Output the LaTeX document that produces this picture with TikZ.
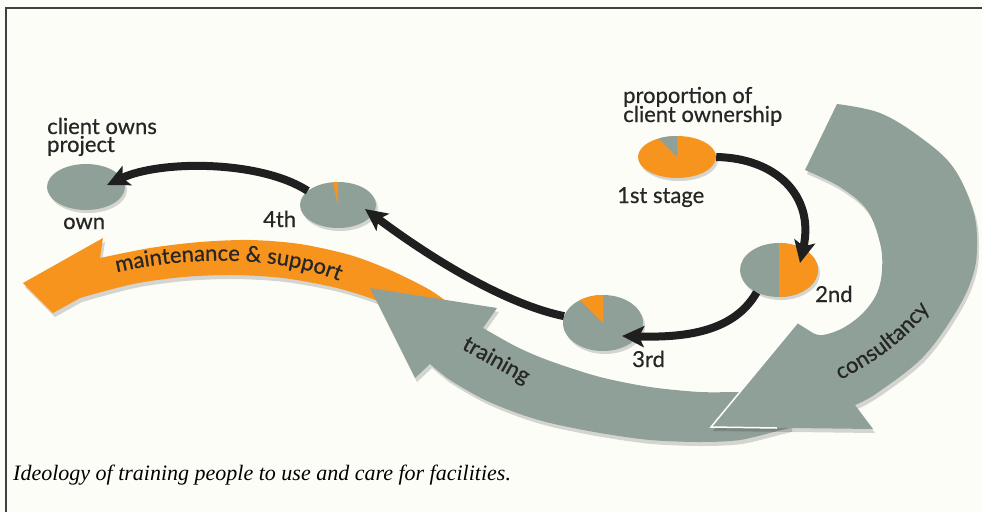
\documentclass[tikz,border=0pt]{standalone}
\usepackage{fontspec}
\setmainfont{Lato}
\newfontfamily\lblfam{Lato}[FakeBold=0.6]
\newfontfamily\capfont{Liberation Serif}
\usetikzlibrary{arrows.meta,shapes.geometric,decorations.text,calc}
\definecolor{bg}{RGB}{253,253,248}
\definecolor{sage}{RGB}{143,160,152}
\definecolor{orng}{RGB}{247,148,30}
\definecolor{ink}{RGB}{38,38,38}
\newcommand\lblfont{\lblfam\fontsize{22}{20}\selectfont}
\begin{document}
\begin{tikzpicture}[x=1pt,y=-1pt,
  lbl/.style={font=\lblfont, text=ink, inner sep=0, anchor=base west},
  conn/.style={line width=8pt, draw=black!88, -{Stealth[length=22pt,width=21pt,inset=5pt]}},
  piebox/.style={ellipse, inner sep=0, minimum width=#1},
  shade/.style={fill=black, opacity=0.16},
]
\useasboundingbox (0,0) rectangle (982,512);
\fill[bg] (0,0) rectangle (982,512);
\draw[line width=2pt, draw=black!75] (6,512) -- (6,8) -- (982,8);

% ---------- maintenance & support (orange) ----------
\begin{scope}[shift={(2,4)}]
\fill[shade] (23,283) -- (103,238) -- (100,258) -- plot[smooth] coordinates {(100,258) (150,248) (200,242) (250,240) (300,244) (350,255) (390,270) (430,290) (455,308)} -- (430,332) -- plot[smooth] coordinates {(430,332) (400,311) (370,298) (333,287) (283,278) (233,275) (183,277) (133,284) (80,298)} -- (53,313) -- cycle;
\end{scope}
\fill[orng] (23,283) -- (103,238) -- (100,258) -- plot[smooth] coordinates {(100,258) (150,248) (200,242) (250,240) (300,244) (350,255) (390,270) (430,290) (455,308)} -- (430,332) -- plot[smooth] coordinates {(430,332) (400,311) (370,298) (333,287) (283,278) (233,275) (183,277) (133,284) (80,298)} -- (53,313) -- cycle;
\path[decorate, decoration={text along path, text={|\lblfont|maintenance {\&} support}, text align=center, text color=ink}] (92,279) .. controls (170,255) and (290,250) .. (362,292);

% ---------- training (grey) ----------
\begin{scope}[shift={(2,4)}]
\fill[shade] (370,288) -- (497,308) -- (483,328) -- plot[smooth] coordinates {(483,328) (517,347) (550,361) (600,377) (650,387) (700,392) (745,392) (790,393)} -- (790,428) -- plot[smooth] coordinates {(777,431) (740,440) (700,442) (650,440) (600,433) (550,423) (517,413) (483,399) (450,380) (430,364)} -- (415,378) -- cycle;
\end{scope}
\fill[sage] (370,288) -- (497,308) -- (483,328) -- plot[smooth] coordinates {(483,328) (517,347) (550,361) (600,377) (650,387) (700,392) (745,392) (790,393)} -- (790,428) -- plot[smooth] coordinates {(777,431) (740,440) (700,442) (650,440) (600,433) (550,423) (517,413) (483,399) (450,380) (430,364)} -- (415,378) -- cycle;
\node[font=\lblfont, text=ink, rotate=-29, inner sep=0] (ttrain) at (496,361) {training};

% ---------- consultancy (grey) ----------
\begin{scope}[shift={(2,4)}]
\fill[shade] plot[smooth, tension=0.6] coordinates {(837,104) (880,113) (920,137) (953,167) (973,210) (977,245) (973,275) (957,310) (923,357) (877,393) (855,405)} -- (873,429) -- (711,427) -- (797,323) -- plot[smooth, tension=0.6] coordinates {(813,333) (823,335) (843,328) (863,313) (877,293) (882,270) (880,243) (867,210) (840,187) (805,170)} -- cycle;
\end{scope}
\fill[sage] plot[smooth, tension=0.6] coordinates {(837,104) (880,113) (920,137) (953,167) (973,210) (977,245) (973,275) (957,310) (923,357) (877,393) (855,405)} -- (873,429) -- (711,427) -- (797,323) -- plot[smooth, tension=0.6] coordinates {(813,333) (823,335) (843,328) (863,313) (877,293) (882,270) (880,243) (867,210) (840,187) (805,170)} -- cycle;
\draw[white, line width=1.5pt] (797,323) -- (711,427) -- (777,428);
\path[decorate, decoration={text along path, text={|\lblfont|consultancy}, text align=center, text color=ink}] (828,386) .. controls (870,366) and (910,340) .. (938,298);

% ---------- pies ----------
\node[piebox=78pt, minimum height=42pt] (p1) at (677,157) {};
\node[piebox=78pt, minimum height=54pt] (p2) at (779,270) {};
\node[piebox=80pt, minimum height=56pt] (p3) at (603,323) {};
\node[piebox=76pt, minimum height=46pt] (p4) at (338,205) {};
\node[piebox=78pt, minimum height=46pt] (p5) at (86,187) {};

\fill[shade] ($(p1.center)+(2,3)$) ellipse [x radius=39, y radius=21];
\fill[orng] (p1.center) ellipse [x radius=39, y radius=21];
\fill[sage] (p1.center) -- ++(-90:39 and 21) arc[start angle=-90, end angle=-118, x radius=39, y radius=21] -- cycle;

\fill[shade] ($(p2.center)+(2,3)$) ellipse [x radius=39, y radius=27];
\fill[sage] (p2.center) ellipse [x radius=39, y radius=27];
\fill[orng] (p2.center) -- ++(-90:39 and 27) arc[start angle=-90, end angle=90, x radius=39, y radius=27] -- cycle;

\fill[shade] ($(p3.center)+(2,3)$) ellipse [x radius=40, y radius=28];
\fill[sage] (p3.center) ellipse [x radius=40, y radius=28];
\fill[orng] (p3.center) -- ++(-90:40 and 28) arc[start angle=-90, end angle=-125, x radius=40, y radius=28] -- cycle;

\fill[shade] ($(p4.center)+(2,3)$) ellipse [x radius=38, y radius=23];
\fill[sage] (p4.center) ellipse [x radius=38, y radius=23];
\fill[orng] (p4.center) -- ++(-90:38 and 23) arc[start angle=-90, end angle=-98, x radius=38, y radius=23] -- cycle;

\fill[shade] ($(p5.center)+(2,3)$) ellipse [x radius=39, y radius=23];
\fill[sage] (p5.center) ellipse [x radius=39, y radius=23];

% ---------- connectors ----------
\draw[conn] (p1.east) .. controls (775,158) and (815,195) .. ($(p2.center)+(21,-7)$);
\draw[conn] (p2.225) .. controls (735,330) and (690,338) .. ($(p3.center)+(19,13)$);
\draw[conn] (p3.170) .. controls (510,305) and (440,265) .. ($(p4.center)+(27,4)$);
\draw[conn] (p4.155) .. controls (260,160) and (160,160) .. ($(p5.center)+(21,-2)$);

% ---------- labels ----------
\node[lbl] (lprop) at (623,103) {proportion of};
\node[lbl] (lcli) at (623,122) {client ownership};
\node[lbl] (l1) at (617,203) {1st stage};
\node[lbl] (l2) at (815,302) {2nd};
\node[lbl] (l3) at (632,367) {3rd};
\node[lbl] (l4) at (263,227) {4th};
\node[lbl] (l5) at (63,229) {own};
\node[lbl] (lown1) at (47,134) {client owns};
\node[lbl] (lown2) at (47,152) {project};

% ---------- caption ----------
\node[font=\capfont\itshape\fontsize{22}{24}\selectfont, text=black, inner sep=0, anchor=base west] (cap) at (13,480) {Ideology of training people to use and care for facilities.};
\end{tikzpicture}
\end{document}
